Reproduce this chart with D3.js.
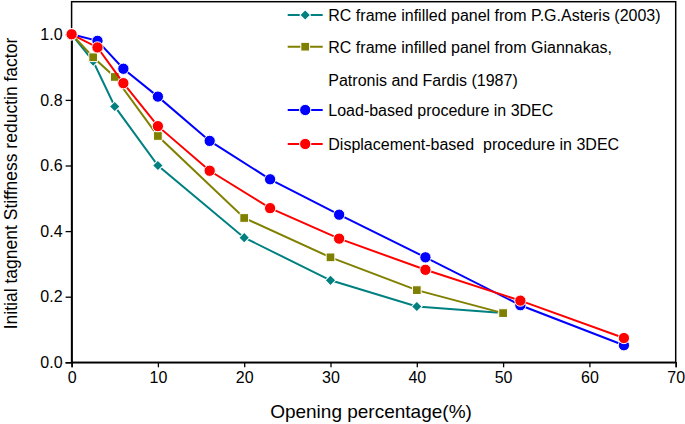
<!DOCTYPE html>
<html>
<head>
<meta charset="utf-8">
<script src="https://cdn.jsdelivr.net/npm/d3@7"></script>
<style>
  body { margin: 0; background: #fff; }
  svg text { font-family: "Liberation Sans", Arial, sans-serif; white-space: pre; }
</style>
</head>
<body>
<svg id="chart" width="685" height="424"></svg>
<script>
// ---- Data ----
const asterisX = [0, 2.5, 5, 10, 20, 30, 40, 50];
const asterisY = [1.0, 0.918, 0.78, 0.60, 0.38, 0.25, 0.17, 0.15];
const giannakasX = [0, 2.5, 5, 10, 20, 30, 40, 50];
const giannakasY = [1.0, 0.93, 0.87, 0.69, 0.44, 0.32, 0.22, 0.15];
const loadX = [0, 3, 6, 10, 16, 23, 31, 41, 52, 64];
const loadY = [1.0, 0.98, 0.895, 0.81, 0.675, 0.558, 0.45, 0.32, 0.174, 0.052];
const dispX = [0, 3, 6, 10, 16, 23, 31, 41, 52, 64];
const dispY = [1.0, 0.96, 0.851, 0.72, 0.584, 0.47, 0.377, 0.282, 0.188, 0.074];
const xTicks = [0, 10, 20, 30, 40, 50, 60, 70];
const yTicks = [0.0, 0.2, 0.4, 0.6, 0.8, 1.0];
const seriesNames = [
  ["RC frame infilled panel from P.G.Asteris (2003)"],
  ["RC frame infilled panel from Giannakas,", "Patronis and Fardis (1987)"],
  ["Load-based procedure in 3DEC"],
  ["Displacement-based  procedure in 3DEC"]
];
const seriesColors = ["#008080", "#808000", "#0000ff", "#ff0000"];
const seriesShapes = ["diamond", "square", "circle", "circle"];
const xTitle = "Opening percentage(%)";
const yTitle = "Initial tagnent Stiffness reductin factor";

// ---- Layout ----
const svg = d3.select("#chart");
const pL = 71.6, pR = 675.7, pT = 1.7, pB = 362.3;
const x = d3.scaleLinear().domain([0, 70]).range([pL, pR]);
const y = d3.scaleLinear().domain([0, 1]).range([pB, 34.3]);

// frame
svg.append("rect").attr("x", pL).attr("y", pT)
  .attr("width", pR - pL).attr("height", pB - pT)
  .attr("fill", "none").attr("stroke", "#000").attr("stroke-width", 1.5);

// axes
const xAxis = svg.append("g").attr("transform", `translate(0,${pB})`)
  .call(d3.axisBottom(x).tickValues(xTicks).tickFormat(d3.format("d")).tickSize(5).tickPadding(4));
const yAxis = svg.append("g").attr("transform", `translate(${pL},0)`)
  .call(d3.axisLeft(y).tickValues(yTicks).tickFormat(d3.format(".1f")).tickSize(6).tickPadding(3));
[xAxis, yAxis].forEach(g => {
  g.select(".domain").attr("stroke-width", 1.5);
  g.selectAll(".tick line").attr("stroke-width", 1.3);
  g.selectAll("text").attr("font-size", 16).attr("fill", "#000")
    .attr("font-family", "'Liberation Sans', Arial, sans-serif");
});

// titles
svg.append("text").attr("x", 371).attr("y", 418)
  .attr("text-anchor", "middle").attr("font-size", 19).text(xTitle);
svg.append("text").attr("transform", `translate(17,183.5) rotate(-90)`)
  .attr("text-anchor", "middle").attr("font-size", 17.5).text(yTitle);

// series
const data = [
  asterisX.map((d, i) => [d, asterisY[i]]),
  giannakasX.map((d, i) => [d, giannakasY[i]]),
  loadX.map((d, i) => [d, loadY[i]]),
  dispX.map((d, i) => [d, dispY[i]])
];
const line = d3.line().x(d => x(d[0])).y(d => y(d[1]));
const symbolFor = s => s === "diamond" ? d3.symbol().type(d3.symbolSquare).size(56)
  : s === "square" ? d3.symbol().type(d3.symbolSquare).size(76)
  : d3.symbol().type(d3.symbolCircle).size(100);

function drawMarker(g, shape, color, px, py) {
  const p = g.append("path").attr("d", symbolFor(shape)())
    .attr("fill", color).attr("stroke", "#fff").attr("stroke-width", 1);
  p.attr("transform", `translate(${px},${py})` + (shape === "diamond" ? " rotate(45)" : ""));
}

data.forEach((pts, si) => {
  const g = svg.append("g");
  g.append("path").datum(pts).attr("d", line).attr("fill", "none")
    .attr("stroke", seriesColors[si]).attr("stroke-width", 2);
  pts.forEach(d => drawMarker(g, seriesShapes[si], seriesColors[si], x(d[0]), y(d[1])));
});

// legend
const legRows = [15, 46.7, 110, 144];
const legX0 = 287.7, legX1 = 322.7, legTextX = 328.3;
seriesNames.forEach((lines, i) => {
  const cy = legRows[i];
  const g = svg.append("g");
  g.append("line").attr("x1", legX0).attr("x2", legX1).attr("y1", cy).attr("y2", cy)
    .attr("stroke", seriesColors[i]).attr("stroke-width", 2);
  drawMarker(g, seriesShapes[i], seriesColors[i], (legX0 + legX1) / 2, cy);
  lines.forEach((t, j) => {
    g.append("text").attr("x", legTextX).attr("y", cy + 6 + j * 33.3)
      .attr("font-size", 16).attr("xml:space", "preserve").text(t);
  });
});
</script>
</body>
</html>
